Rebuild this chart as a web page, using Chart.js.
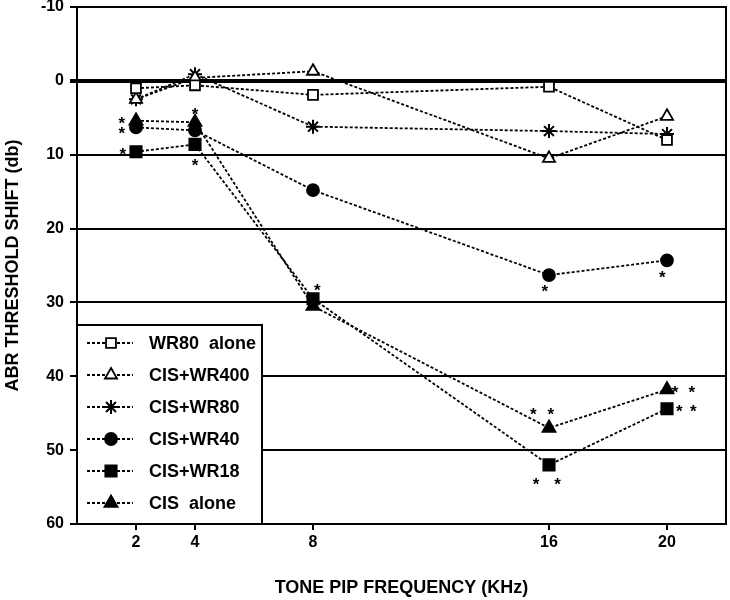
<!DOCTYPE html>
<html>
<head>
<meta charset="utf-8">
<script src="https://cdn.jsdelivr.net/npm/chart.js@4/dist/chart.umd.min.js"></script>
<style>
html,body{margin:0;padding:0;background:#fff;}
#wrap{width:730px;height:600px;position:relative;}
</style>
</head>
<body>
<div id="wrap"><canvas id="c" width="730" height="600"></canvas></div>
<script>
// ---- data ----
const frequencies = [2, 4, 8, 16, 20];
const xTickValues = [2, 4, 8, 16, 20];
const yTickStep = 10;
const seriesLabels = ["WR80  alone", "CIS+WR400", "CIS+WR80", "CIS+WR40", "CIS+WR18", "CIS  alone"];
const wr80Alone = [1.0, 0.6, 1.9, 0.8, 8.0];
const cisWr400 = [2.5, -0.4, -1.3, 10.5, 4.8];
const cisWr80 = [2.5, -0.9, 6.2, 6.8, 7.2];
const cisWr40 = [6.3, 6.7, 14.8, 26.3, 24.3];
const cisWr18 = [9.6, 8.6, 29.5, 52.0, 44.4];
const cisAlone = [5.4, 5.6, 30.5, 47.0, 41.8];
// significance asterisks (x in kHz, y in dB)
const starX = [1.52, 1.52, 1.55, 4.0, 4.0, 8.15, 15.86, 19.84, 15.47, 16.06, 15.56, 16.29, 20.27, 20.84, 20.42, 20.89];
const starY = [5.2, 6.5, 9.4, 3.9, 10.9, 27.8, 27.9, 26.0, 44.5, 44.5, 54.1, 54.1, 41.6, 41.6, 44.1, 44.1];

const seriesValues = [wr80Alone, cisWr400, cisWr80, cisWr40, cisWr18, cisAlone];
const styles = [
  {ps: 'rect', r: 7, fill: '#fff'},
  {ps: 'triangle', r: 7, fill: '#fff'},
  {ps: 'star', r: 7, fill: '#000'},
  {ps: 'circle', r: 6, fill: '#000'},
  {ps: 'rect', r: 8, fill: '#000'},
  {ps: 'triangle', r: 7.5, fill: '#000'}
];

const FONT = "'Liberation Sans', Arial, sans-serif";

const datasets = seriesValues.map((vals, i) => ({
  label: seriesLabels[i],
  data: frequencies.map((f, j) => ({x: f, y: vals[j]})),
  borderColor: '#000',
  borderWidth: 1.8,
  borderDash: [3, 2],
  pointStyle: styles[i].ps,
  pointRadius: styles[i].r,
  pointBackgroundColor: styles[i].fill,
  pointBorderColor: '#000',
  pointBorderWidth: styles[i].ps === 'star' ? 2 : 1.8,
  fill: false,
  tension: 0
}));

function drawMarker(ctx, st, x, y) {
  ctx.save();
  ctx.fillStyle = st.fill;
  ctx.strokeStyle = '#000';
  ctx.lineWidth = st.ps === 'star' ? 2 : 1.8;
  ctx.setLineDash([]);
  Chart.helpers.drawPoint(ctx, {pointStyle: st.ps, radius: st.r, borderWidth: ctx.lineWidth, rotation: 0}, x, y);
  ctx.restore();
}

const extras = {
  id: 'extras',
  afterDatasetsDraw(chart) {
    const ctx = chart.ctx;
    const a = chart.chartArea;
    const xs = chart.scales.x, ys = chart.scales.y;
    // asterisks
    ctx.save();
    ctx.fillStyle = '#000';
    ctx.font = 'bold 17px ' + FONT;
    ctx.textAlign = 'center';
    ctx.textBaseline = 'alphabetic';
    for (let i = 0; i < starX.length; i++) {
      ctx.fillText('*', xs.getPixelForValue(starX[i]), ys.getPixelForValue(starY[i]) + 10);
    }
    ctx.restore();
    // frame
    ctx.save();
    ctx.strokeStyle = '#000';
    ctx.lineWidth = 2;
    ctx.strokeRect(a.left, a.top, a.right - a.left, a.bottom - a.top);
    ctx.restore();
    // legend box
    const bx = a.left, by = 325, bw = 185, bh = a.bottom - 325;
    ctx.save();
    ctx.fillStyle = '#fff';
    ctx.fillRect(bx, by, bw, bh);
    ctx.strokeStyle = '#000';
    ctx.lineWidth = 2;
    ctx.strokeRect(bx, by, bw, bh);
    for (let i = 0; i < seriesLabels.length; i++) {
      const y = 343 + i * 32;
      ctx.save();
      ctx.strokeStyle = '#000';
      ctx.lineWidth = 1.8;
      ctx.setLineDash([3, 2]);
      ctx.beginPath();
      ctx.moveTo(bx + 10, y); ctx.lineTo(bx + 56, y);
      ctx.stroke();
      ctx.restore();
      drawMarker(ctx, styles[i], bx + 34, y);
      ctx.fillStyle = '#000';
      ctx.font = 'bold 18px ' + FONT;
      ctx.textAlign = 'left';
      ctx.textBaseline = 'middle';
      ctx.fillText(seriesLabels[i], bx + 72, y + 1);
    }
    ctx.restore();
  }
};

function zeroPad(s) { s.paddingTop = 0; s.paddingBottom = 0; s.paddingLeft = 0; s.paddingRight = 0; }

new Chart(document.getElementById('c'), {
  type: 'line',
  data: {datasets},
  options: {
    responsive: false,
    animation: false,
    devicePixelRatio: 1,
    layout: {padding: {top: 7, right: 4, left: 0, bottom: 0}, autoPadding: false},
    plugins: {legend: {display: false}, tooltip: {enabled: false}},
    scales: {
      x: {
        type: 'linear',
        min: 0, max: 22,
        afterBuildTicks: s => { s.ticks = xTickValues.map(v => ({value: v})); },
        afterFit: s => { s.height = 76; zeroPad(s); },
        grid: {drawOnChartArea: false, drawTicks: true, tickLength: 6, color: '#000', lineWidth: 2},
        border: {display: true, color: '#000', width: 2},
        ticks: {color: '#000', font: {family: FONT, size: 16, weight: 'bold'}, padding: 3, maxRotation: 0, autoSkip: false},
        title: {display: true, text: 'TONE PIP FREQUENCY (KHz)', color: '#000', font: {family: FONT, size: 18, weight: 'bold'}, padding: {top: 0, bottom: 1}}
      },
      y: {
        reverse: true,
        min: -10, max: 60,
        afterFit: s => { s.width = 77; zeroPad(s); },
        grid: {color: '#000', lineWidth: c => (c.tick && c.tick.value === 0 ? 4 : 2), tickLength: 7},
        border: {display: true, color: '#000', width: 2},
        ticks: {stepSize: yTickStep, color: '#000', font: {family: FONT, size: 16, weight: 'bold'}, padding: 6},
        title: {display: true, text: 'ABR THRESHOLD SHIFT (db)', color: '#000', font: {family: FONT, size: 18, weight: 'bold'}, padding: {top: 2, bottom: 0}}
      }
    }
  },
  plugins: [extras]
});
</script>
</body>
</html>
